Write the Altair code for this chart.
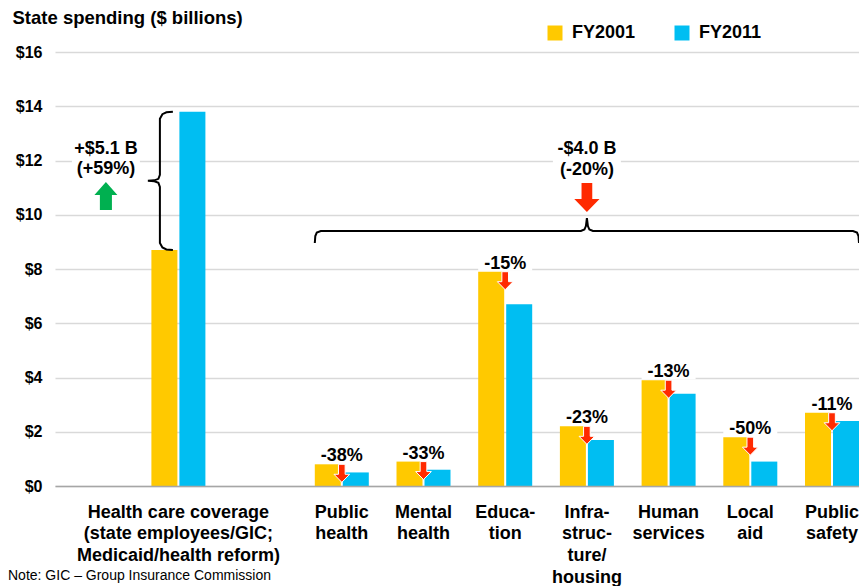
import altair as alt
import pandas as pd

# ---------------- data ----------------
categories = [
    "Health care coverage|(state employees/GIC;|Medicaid/health reform)",
    "Public|health",
    "Mental|health",
    "Educa-|tion",
    "Infra-|struc-|ture/|housing",
    "Human|services",
    "Local|aid",
    "Public|safety",
]
fy2001 = [8.7, 0.8, 0.9, 7.9, 2.2, 3.9, 1.8, 2.7]
fy2011 = [13.8, 0.5, 0.6, 6.7, 1.7, 3.4, 0.9, 2.4]
pct_labels = ["", "-38%", "-33%", "-15%", "-23%", "-13%", "-50%", "-11%"]
series = ["FY2001", "FY2011"]
series_colors = ["#FFC900", "#00BEF2"]
health_change = ["+$5.1 B", "(+59%)"]
other_change = ["-$4.0 B", "(-20%)"]
y_ticks = [0, 2, 4, 6, 8, 10, 12, 14, 16]
title_text = "State spending ($ billions)"
footnote = "Note: GIC \u2013 Group Insurance Commission"

# ---------------- layout ----------------
FONT = "Liberation Sans"
W, H = 804, 434          # 47 + 804 = 851 px: the whole svg fits the page without being shrunk
STEP, BW = 81.7, 54.0
FIRST_CENTER = 123.4
GAP = " "
domain = [categories[0], GAP] + categories[1:]
n = len(domain)
p_inner = 1 - BW / STEP
p_outer = (W / STEP - n + p_inner) / 2
space = W - STEP * (n - p_inner)
align = min(1.0, (FIRST_CENTER - BW / 2) / space)
first_center = space * align + BW / 2
q_domain = [-first_center / STEP, (W - first_center) / STEP]
YMAX = 16.0
PXY = YMAX / H   # value units per pixel


def gx(idx, dx_px=0.0):
    return idx + dx_px / STEP


def gy(val, dy_px=0.0):  # dy_px positive = downwards
    return val - dy_px * PXY


cat_idx = {c: domain.index(c) for c in categories}

bars_df = pd.DataFrame(
    [{"cat": c, "series": s, "value": v}
     for c, a, b in zip(categories, fy2001, fy2011)
     for s, v in zip(series, [a, b])]
)
cat_df = pd.DataFrame({"cat": categories, "fy2001": fy2001, "fy2011": fy2011, "pct": pct_labels})
chg_df = cat_df[cat_df["pct"] != ""]

# braces
h_idx = cat_idx[categories[0]]
y_top, y_bot = fy2011[0], fy2001[0]
y_mid = (y_top + y_bot) / 2
vb = [(-5.5, y_top, 0), (-12, y_top, 0.6), (-16, y_top, 2.5), (-18.5, y_top, 7),
      (-18.5, y_mid, -6), (-20, y_mid, -2), (-24, y_mid, -0.5), (-30.5, y_mid, 0),
      (-24, y_mid, 0.5), (-20, y_mid, 2), (-18.5, y_mid, 6),
      (-18.5, y_bot, -7), (-16, y_bot, -2.5), (-12, y_bot, -0.6), (-5.5, y_bot, 0)]
x0 = gx(cat_idx[categories[1]], -BW / 2)
x1 = gx(cat_idx[categories[-1]], BW / 2)
xm = (x0 + x1) / 2
BRACE_Y = 9.4
hb = [(x0, 0, 12), (x0, 0.5, 5), (x0, 2, 1.5), (x0, 6, 0), (xm, -6, 0), (xm, -2.5, -1.5),
      (xm, -1, -5), (xm, 0, -13), (xm, 1, -5), (xm, 2.5, -1.5), (xm, 6, 0),
      (x1, -6, 0), (x1, -2, 1.5), (x1, -0.5, 5), (x1, 0, 12)]
brace_rows = []
for i, (dx, yv_, dy) in enumerate(vb):
    brace_rows.append({"b": "health", "i": i, "x": gx(h_idx, dx), "y": gy(yv_, dy)})
for i, (xa, dx, dy) in enumerate(hb):
    brace_rows.append({"b": "other", "i": i, "x": gx(xa, dx), "y": gy(BRACE_Y, dy)})
brace_df = pd.DataFrame(brace_rows)

# big annotations
hx = gx(h_idx, -72.5)
ann_df = pd.DataFrame({
    "x": [hx, hx, xm, xm],
    "y": [12.44, 11.69, 12.42, 11.65],
    "t": health_change + other_change,
})
box_df = pd.DataFrame({
    "x": [gx(hx, -34), gx(xm, -34)], "x2": [gx(hx, 34), gx(xm, 34)],
    "y": [gy(12.44, -10), gy(12.42, -10)], "y2": [gy(11.69, 10), gy(11.65, 10)],
})
up_df = pd.DataFrame({"x": [hx], "y": [10.69]})
down_df = pd.DataFrame({"x": [xm], "y": [10.64]})
foot_df = pd.DataFrame({"t": [footnote]})

DOWN = "M-0.37,-1 L0.37,-1 L0.37,0.11 L0.87,0.11 L0,1 L-0.87,0.11 L-0.37,0.11 Z"
UP = "M-0.43,1 L0.43,1 L0.43,-0.07 L0.82,-0.07 L0,-1 L-0.82,-0.07 L-0.43,-0.07 Z"
RED = "#FF2A00"
GREEN = "#00B050"

# ---------------- encodings ----------------
y_scale = alt.Scale(domain=[0, YMAX], nice=False, zero=True)
band_scale = alt.Scale(domain=domain, paddingInner=p_inner, paddingOuter=p_outer,
                       align=align, round=False)
q_scale = alt.Scale(domain=q_domain, nice=False, zero=False)

x_axis = alt.Axis(title=None, labelExpr="split(datum.label, '|')", labelAngle=0,
                  labelAlign="center", labelBaseline="top", labelFontSize=18,
                  labelFontWeight="bold", labelColor="black", labelLineHeight=21.7,
                  labelPadding=17, labelLimit=400, labelOverlap=False, ticks=False,
                  domain=True, domainColor="#A6A6A6", domainWidth=1.5, grid=False)
y_axis = alt.Axis(values=y_ticks, labelExpr="'$' + datum.value", labelFontSize=16,
                  labelFontWeight="bold", labelColor="black", labelPadding=13,
                  ticks=False, domain=False, grid=True, gridColor="#D9D9D9", gridWidth=1.5,
                  title=title_text, titleAngle=0, titleAlign="left", titleBaseline="alphabetic",
                  titleX=-43, titleY=-29, titleFontSize=18.5, titleFontWeight="bold",
                  titleColor="black")


def yv(field):
    return alt.Y(f"{field}:Q", scale=y_scale, axis=y_axis)


def xb():
    return alt.X("cat:N", scale=band_scale, axis=x_axis)


def xq(field="x"):
    return alt.X(f"{field}:Q", scale=q_scale, axis=None)


bars = alt.Chart(bars_df).mark_bar().encode(
    x=xb(),
    xOffset=alt.XOffset("series:N", scale=alt.Scale(domain=series, paddingInner=2 / 28, paddingOuter=0)),
    y=yv("value"),
    color=alt.Color("series:N", scale=alt.Scale(domain=series, range=series_colors),
                    legend=alt.Legend(title=None, orient="none", legendX=491, legendY=-28,
                                      direction="horizontal", symbolType="square",
                                      symbolSize=225, symbolStrokeWidth=0,
                                      labelFontSize=18, labelFontWeight="bold",
                                      labelColor="black", labelOffset=8, columnPadding=37,
                                      padding=0)),
)

pct_box = alt.Chart(chg_df).mark_rect(color="white", y2Offset=-21, yOffset=-1).encode(
    x=xb(), y=yv("fy2001"), y2="fy2001:Q")
pct_text = alt.Chart(chg_df).mark_text(baseline="alphabetic", dy=-3, fontSize=18,
                                       fontWeight="bold", color="black").encode(
    x=xb(), y=yv("fy2001"), text="pct:N")
pct_arrow = alt.Chart(chg_df).mark_point(shape=DOWN, size=324, filled=True, fill=RED,
                                         stroke="white", strokeWidth=1, opacity=1,
                                         yOffset=9).encode(
    x=xb(), y=yv("fy2001"))

band_layer = alt.layer(pct_box, bars, pct_text, pct_arrow)

big_box = alt.Chart(box_df).mark_rect(color="white").encode(
    x=xq(), x2="x2:Q", y=yv("y"), y2="y2:Q")
braces = alt.Chart(brace_df).mark_line(color="black", strokeWidth=2).encode(
    x=xq(), y=yv("y"), detail="b:N", order="i:Q")
big_text = alt.Chart(ann_df).mark_text(fontSize=18, fontWeight="bold", color="black",
                                       baseline="middle").encode(
    x=xq(), y=yv("y"), text="t:N")
up_arrow = alt.Chart(up_df).mark_point(shape=UP, size=784, filled=True, fill=GREEN,
                                       strokeWidth=0, opacity=1).encode(
    x=xq(), y=yv("y"))
down_arrow = alt.Chart(down_df).mark_point(shape=DOWN, size=841, filled=True, fill=RED,
                                           strokeWidth=0, opacity=1).encode(
    x=xq(), y=yv("y"))
foot = alt.Chart(foot_df).mark_text(align="left", baseline="top", fontSize=14,
                                    color="black").encode(
    x=alt.value(-47), y=alt.value(517), text="t:N")

q_layer = alt.layer(big_box, braces, big_text, up_arrow, down_arrow, foot)

chart = alt.layer(band_layer, q_layer).resolve_scale(x="independent").properties(
    width=W, height=H,
    autosize=alt.AutoSizeParams(type="none"),
    padding={"left": 47, "top": 44, "right": 0, "bottom": 100},
).configure(font=FONT).configure_view(stroke=None)

chart.save("out.html", embed_options={"renderer": "svg", "actions": False})
